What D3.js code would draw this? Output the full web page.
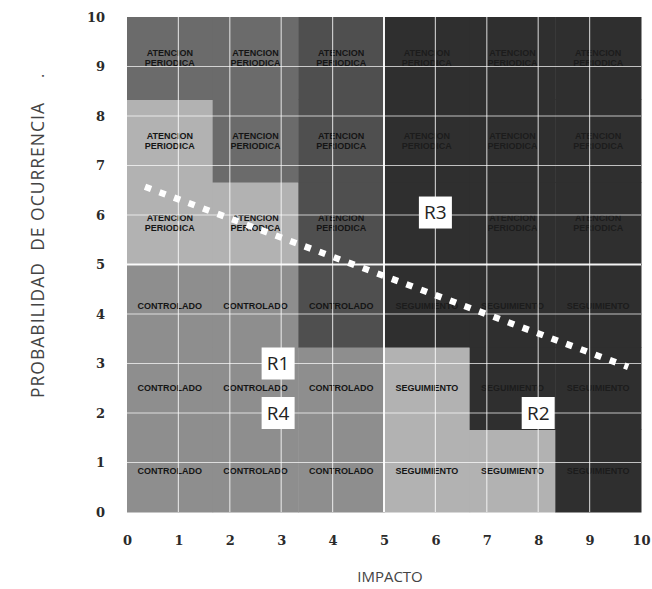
<!DOCTYPE html>
<html lang="es">

<head>
  <meta charset="UTF-8">
  <title>Matriz de riesgo</title>
  <script src="https://d3js.org/d3.v7.min.js"></script>
  <style>
    body { margin: 0; background: #fff; }
  </style>
</head>

<body>
  <div id="root"></div>
  <script>
    // escala 0..10 en los dos ejes
    const ticks = d3.range(0, 11);
    // matriz 6x6, fila 0 = abajo. nivel: 0 claro ... 4 muy oscuro
    const nivel = [
      [1, 1, 1, 0, 0, 4],
      [1, 1, 1, 0, 4, 4],
      [1, 1, 3, 4, 4, 4],
      [0, 0, 3, 4, 4, 4],
      [0, 2, 3, 4, 4, 4],
      [2, 2, 3, 4, 4, 4]
    ];
    // la celda bajo R3 no se ve en el original
    const etiquetas = [
      ['CONTROLADO', 'CONTROLADO', 'CONTROLADO', 'SEGUIMIENTO', 'SEGUIMIENTO', 'SEGUIMIENTO'],
      ['CONTROLADO', 'CONTROLADO', 'CONTROLADO', 'SEGUIMIENTO', 'SEGUIMIENTO', 'SEGUIMIENTO'],
      ['CONTROLADO', 'CONTROLADO', 'CONTROLADO', 'SEGUIMIENTO', 'SEGUIMIENTO', 'SEGUIMIENTO'],
      ['ATENCION PERIODICA', 'ATENCION PERIODICA', 'ATENCION PERIODICA', '', 'ATENCION PERIODICA', 'ATENCION PERIODICA'],
      ['ATENCION PERIODICA', 'ATENCION PERIODICA', 'ATENCION PERIODICA', 'ATENCION PERIODICA', 'ATENCION PERIODICA', 'ATENCION PERIODICA'],
      ['ATENCION PERIODICA', 'ATENCION PERIODICA', 'ATENCION PERIODICA', 'ATENCION PERIODICA', 'ATENCION PERIODICA', 'ATENCION PERIODICA']
    ];
    const zonas = ['R1', 'R2', 'R3', 'R4'];
    const zonaX = [2.94, 8.0, 6.0, 2.94];
    const zonaY = [3.0, 2.0, 6.05, 2.0];
    // linea punteada (umbral)
    const umbralX = [0.35, 9.75];
    const umbralY = [6.57, 2.93];

    const W = 652, H = 589;
    const m = { top: 17, right: 11, bottom: 77, left: 127 };
    const w = W - m.left - m.right, h = H - m.top - m.bottom;

    const svg = d3.select('#root').append('svg').attr('width', W).attr('height', H);
    const g = svg.append('g').attr('transform', `translate(${m.left},${m.top})`);

    const x = d3.scaleLinear().domain([0, 10]).range([0, w]);
    const y = d3.scaleLinear().domain([0, 10]).range([h, 0]);
    const color = d3.scaleOrdinal().domain([0, 1, 2, 3, 4])
      .range(['#b2b2b2', '#8e8e8e', '#6b6b6b', '#4f4f4f', '#2f2f2f']);
    const paso = 10 / 6;

    const celdas = [];
    nivel.forEach((fila, i) => fila.forEach((n, j) => {
      celdas.push({ i, j, n, txt: etiquetas[i][j] });
    }));

    g.selectAll('rect.celda').data(celdas).enter().append('rect')
      .attr('class', 'celda')
      .attr('x', d => x(d.j * paso))
      .attr('y', d => y((d.i + 1) * paso))
      .attr('width', x(paso) - x(0) + 0.5)
      .attr('height', y(0) - y(paso) + 0.5)
      .attr('fill', d => color(d.n));

    // textos de las celdas
    const t = g.selectAll('text.celda').data(celdas.filter(d => d.txt)).enter().append('text')
      .attr('class', 'celda')
      .attr('x', d => x((d.j + 0.5) * paso))
      .attr('y', d => y((d.i + 0.5) * paso))
      .attr('text-anchor', 'middle')
      .attr('font-family', 'Liberation Sans, Arial, sans-serif')
      .attr('font-size', 9)
      .attr('font-weight', 'bold')
      .attr('fill', d => d.n == 4 ? '#1c1c1c' : '#151515');
    t.each(function (d) {
      const partes = d.txt.split(' ');
      const el = d3.select(this);
      partes.forEach((p, k) => {
        el.append('tspan')
          .attr('x', x((d.j + 0.5) * paso))
          .attr('dy', k == 0 ? (partes.length > 1 ? '-0.2em' : '0.35em') : '1.1em')
          .text(p);
      });
    });

    // cuadricula blanca 10x10
    g.selectAll('line.v').data(ticks.slice(1, 10)).enter().append('line')
      .attr('x1', d => x(d)).attr('x2', d => x(d))
      .attr('y1', 0).attr('y2', h)
      .attr('stroke', '#fff')
      .attr('stroke-opacity', d => d == 5 ? 0.95 : 0.7)
      .attr('stroke-width', d => d == 5 ? 2 : 1.2);
    g.selectAll('line.h').data(ticks.slice(1, 10)).enter().append('line')
      .attr('y1', d => y(d)).attr('y2', d => y(d))
      .attr('x1', 0).attr('x2', w)
      .attr('stroke', '#fff')
      .attr('stroke-opacity', d => d == 5 ? 0.95 : 0.7)
      .attr('stroke-width', d => d == 5 ? 2 : 1.2);

    // linea punteada
    const linea = d3.line().x(d => x(d[0])).y(d => y(d[1]));
    g.append('path')
      .attr('d', linea(d3.zip(umbralX, umbralY)))
      .attr('fill', 'none')
      .attr('stroke', '#fff')
      .attr('stroke-width', 6.5)
      .attr('stroke-dasharray', '6.5,9');

    // etiquetas R1..R4
    const zg = g.selectAll('g.zona').data(zonas).enter().append('g')
      .attr('transform', (d, k) => `translate(${x(zonaX[k])},${y(zonaY[k])})`);
    zg.append('rect')
      .attr('x', -16.5).attr('y', -16).attr('width', 33).attr('height', 32)
      .attr('fill', '#fff');
    zg.append('text')
      .attr('text-anchor', 'middle').attr('dy', '0.36em')
      .attr('font-family', 'Open Sans, sans-serif')
      .attr('font-size', 19)
      .attr('fill', '#222')
      .text(d => d);

    // ejes
    const ax = g.append('g').attr('transform', `translate(0,${h + 21})`)
      .call(d3.axisBottom(x).tickValues(ticks).tickSize(0).tickFormat(d3.format('d')));
    ax.select('.domain').remove();
    const ay = g.append('g').attr('transform', 'translate(-19,0)')
      .call(d3.axisLeft(y).tickValues(ticks).tickSize(0).tickFormat(d3.format('d')));
    ay.select('.domain').remove();
    [ax, ay].forEach(a => a.selectAll('text')
      .attr('font-family', 'DejaVu Serif, serif')
      .attr('font-weight', 'bold')
      .attr('font-size', 13)
      .attr('fill', '#2a2a2a'));

    svg.append('text')
      .attr('x', m.left + w / 2 + 6).attr('y', 582)
      .attr('text-anchor', 'middle')
      .attr('font-family', 'Open Sans, sans-serif')
      .attr('font-size', 15)
      .attr('fill', '#444')
      .text('IMPACTO');
    svg.append('text')
      .attr('transform', 'translate(44,250) rotate(-90)')
      .attr('text-anchor', 'middle')
      .attr('font-family', 'Open Sans, sans-serif')
      .attr('font-size', 17.5)
      .attr('letter-spacing', 1)
      .attr('fill', '#444')
      .attr('xml:space', 'preserve')
      .text('PROBABILIDAD  DE OCURRENCIA');
    svg.append('text')
      .attr('transform', 'translate(44,76) rotate(-90)')
      .attr('text-anchor', 'middle')
      .attr('font-family', 'Open Sans, sans-serif')
      .attr('font-size', 15.5)
      .attr('fill', '#444')
      .text('.');
  </script>
</body>

</html>
